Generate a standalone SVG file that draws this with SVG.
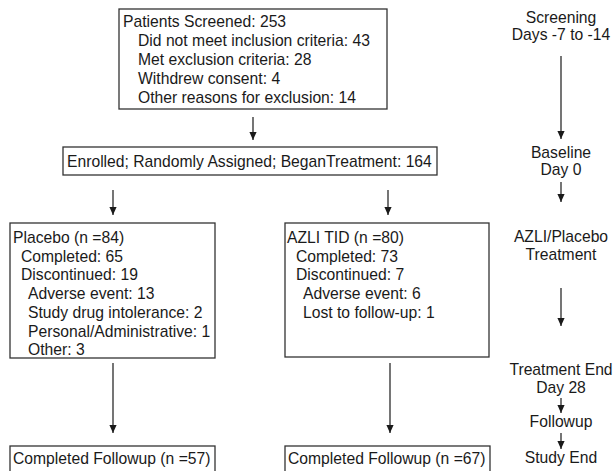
<svg xmlns="http://www.w3.org/2000/svg" width="614" height="471" viewBox="0 0 614 471">
<defs>
<marker id="ah" viewBox="0 0 10 10" refX="10" refY="5" markerWidth="8" markerHeight="8" markerUnits="userSpaceOnUse" orient="auto">
<path d="M0,0.5 L10,5 L0,9.5 Z" fill="#1a1a1a"/>
</marker>
<style>
.box{fill:#fff;stroke:#333;stroke-width:1.3}
.t{font-family:"Liberation Sans",Arial,sans-serif;font-size:15.7px;fill:#1a1a1a}
.c{text-anchor:middle}
.ln{stroke:#1a1a1a;stroke-width:1.2;fill:none;marker-end:url(#ah)}
</style>
</defs>
<rect width="614" height="471" fill="#fff"/>
<g id="connectors">
<line class="ln" x1="253" y1="117" x2="253" y2="140"/>
<line class="ln" x1="113" y1="190" x2="113" y2="215"/>
<line class="ln" x1="388" y1="190" x2="388" y2="215"/>
<line class="ln" x1="113" y1="363" x2="113" y2="433"/>
<line class="ln" x1="390" y1="363" x2="390" y2="433"/>
<line class="ln" x1="561" y1="56" x2="561" y2="139"/>
<line class="ln" x1="561" y1="182" x2="561" y2="202"/>
<line class="ln" x1="561" y1="288" x2="561" y2="326"/>
<line class="ln" x1="561" y1="398" x2="561" y2="413"/>
<line class="ln" x1="561" y1="433" x2="561" y2="449"/>
</g>
<g id="screened">
<rect class="box" x="119" y="9" width="268" height="100"/>
<text class="t" x="123" y="27">Patients Screened: 253</text>
<text class="t" x="138" y="46">Did not meet inclusion criteria: 43</text>
<text class="t" x="138" y="65">Met exclusion criteria: 28</text>
<text class="t" x="138" y="84">Withdrew consent: 4</text>
<text class="t" x="138" y="103">Other reasons for exclusion: 14</text>
</g>
<g id="enrolled">
<rect class="box" x="63" y="147" width="374" height="28"/>
<text class="t" x="67" y="167">Enrolled; Randomly Assigned; BeganTreatment: 164</text>
</g>
<g id="placebo">
<rect class="box" x="10" y="223" width="205" height="135"/>
<text class="t" x="13" y="243">Placebo (n =84)</text>
<text class="t" x="21" y="262">Completed: 65</text>
<text class="t" x="21" y="280">Discontinued: 19</text>
<text class="t" x="28" y="299">Adverse event: 13</text>
<text class="t" x="28" y="318">Study drug intolerance: 2</text>
<text class="t" x="28" y="337">Personal/Administrative: 1</text>
<text class="t" x="28" y="355">Other: 3</text>
</g>
<g id="azli">
<rect class="box" x="285" y="223" width="204" height="134"/>
<text class="t" x="287" y="243">AZLI TID (n =80)</text>
<text class="t" x="296" y="262">Completed: 73</text>
<text class="t" x="296" y="280">Discontinued: 7</text>
<text class="t" x="303" y="299">Adverse event: 6</text>
<text class="t" x="303" y="318">Lost to follow-up: 1</text>
</g>
<g id="placebo-followup">
<rect class="box" x="10" y="446" width="205" height="30"/>
<text class="t" x="13" y="464">Completed Followup (n =57)</text>
</g>
<g id="azli-followup">
<rect class="box" x="285" y="446" width="205" height="30"/>
<text class="t" x="288" y="464">Completed Followup (n =67)</text>
</g>
<g id="timeline">
<text class="t c" x="561" y="23">Screening</text>
<text class="t c" x="561" y="40">Days -7 to -14</text>
<text class="t c" x="561" y="158">Baseline</text>
<text class="t c" x="561" y="175">Day 0</text>
<text class="t c" x="561" y="242">AZLI/Placebo</text>
<text class="t c" x="561" y="260">Treatment</text>
<text class="t c" x="561" y="375">Treatment End</text>
<text class="t c" x="561" y="393">Day 28</text>
<text class="t c" x="561" y="427">Followup</text>
<text class="t c" x="561" y="463">Study End</text>
</g>
</svg>
